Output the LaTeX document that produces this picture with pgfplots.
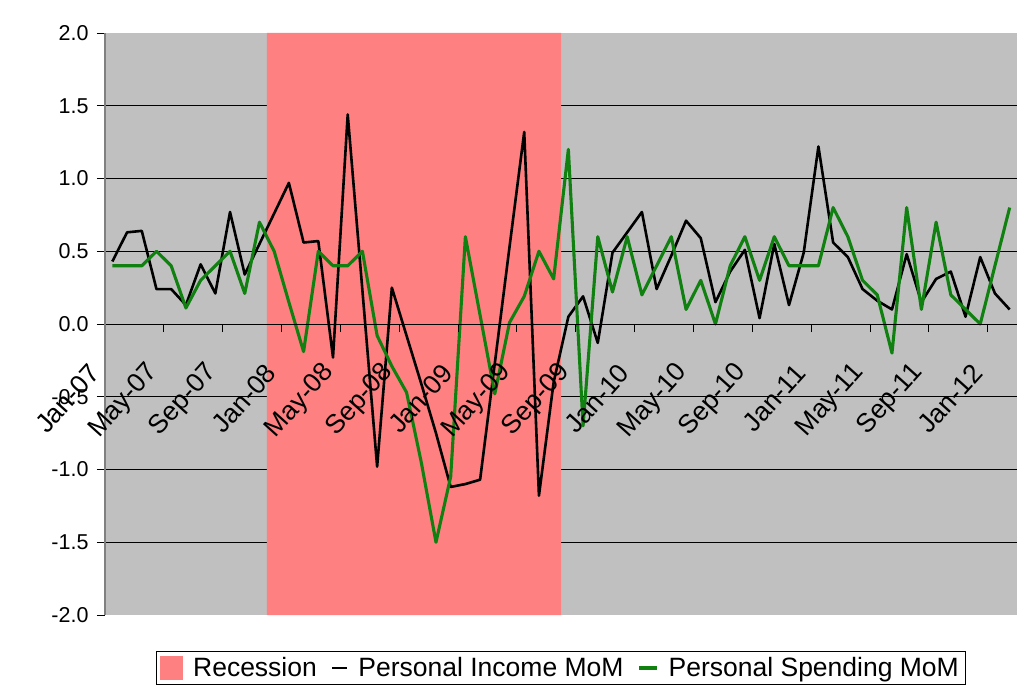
\documentclass[border=0pt]{standalone}
\usepackage{fontspec}
\setmainfont{Liberation Sans}
\usepackage{pgfplots}
\usepackage{pgfplotstable}
\pgfplotsset{compat=1.18}
\definecolor{plotgray}{RGB}{192,192,192}
\definecolor{recred}{RGB}{255,128,128}
\definecolor{spendgreen}{RGB}{16,128,16}
\definecolor{axgray}{RGB}{128,128,128}

\pgfplotstableread{
i income spending
0 0.43 0.40
1 0.63 0.40
2 0.64 0.40
3 0.24 0.50
4 0.24 0.40
5 0.13 0.11
6 0.41 0.30
7 0.21 0.40
8 0.77 0.50
9 0.34 0.21
10 0.55 0.70
11 0.76 0.50
12 0.97 0.15
13 0.56 -0.19
14 0.57 0.50
15 -0.23 0.40
16 1.44 0.40
17 0.23 0.50
18 -0.98 -0.08
19 0.25 -0.29
20 -0.08 -0.47
21 -0.41 -0.95
22 -0.75 -1.50
23 -1.12 -1.05
24 -1.10 0.60
25 -1.07 0.06
26 -0.27 -0.48
27 0.53 0.01
28 1.32 0.19
29 -1.18 0.50
30 -0.40 0.31
31 0.05 1.20
32 0.19 -0.70
33 -0.13 0.60
34 0.49 0.22
35 0.63 0.60
36 0.77 0.20
37 0.24 0.40
38 0.47 0.60
39 0.71 0.10
40 0.59 0.30
41 0.15 0.00
42 0.36 0.40
43 0.51 0.60
44 0.04 0.30
45 0.55 0.60
46 0.13 0.40
47 0.49 0.40
48 1.22 0.40
49 0.56 0.80
50 0.46 0.60
51 0.24 0.30
52 0.16 0.20
53 0.10 -0.20
54 0.48 0.80
55 0.15 0.10
56 0.31 0.70
57 0.36 0.20
58 0.05 0.10
59 0.46 0.00
60 0.21 0.40
61 0.10 0.80
}\datatable

\begin{document}
\begin{tikzpicture}
\path[use as bounding box] (0,0) rectangle (1024pt,693pt);
\begin{axis}[
  at={(105pt,78pt)}, anchor=south west,
  scale only axis, width=912pt, height=582pt,
  xmin=-0.5, xmax=61.5, ymin=-2, ymax=2,
  axis background/.style={fill=plotgray},
  axis x line=middle, axis y line=left,
  axis line style={-},
  x axis line style={black, line width=0.8pt},
  y axis line style={axgray, line width=1.2pt},
  axis on top,
  hide obscured x ticks=false, hide obscured y ticks=false,
  xtick={-0.5,3.5,7.5,11.5,15.5,19.5,23.5,27.5,31.5,35.5,39.5,43.5,47.5,51.5,55.5,59.5},
  xticklabels={Jan-07,May-07,Sep-07,Jan-08,May-08,Sep-08,Jan-09,May-09,Sep-09,Jan-10,May-10,Sep-10,Jan-11,May-11,Sep-11,Jan-12},
  ytick={-2,-1.5,-1,-0.5,0,0.5,1,1.5,2},
  yticklabels={-2.0,-1.5,-1.0,-0.5,0.0,0.5,1.0,1.5,2.0},
  tick align=outside,
  major tick length=8pt,
  tick style={black, line width=0.8pt},
  xticklabel style={font=\fontsize{26.5}{26.5}\selectfont, xshift=-9pt, yshift=-35pt, rotate=48, anchor=east, inner sep=2pt},
  yticklabel style={font=\fontsize{21.5}{21.5}\selectfont, xshift=-5pt},
  no markers,
  legend style={at={(0.5,-0.091)}, anchor=center, draw=black, fill=white,
    line width=0.8pt, font=\fontsize{26.5}{26.5}\selectfont, legend columns=-1,
    /tikz/every odd column/.append style={column sep=7pt},
    /tikz/every even column/.append style={column sep=11pt},
    nodes={inner sep=3pt},
    inner sep=3.5pt},
  legend cell align=left,
]
\draw[black, line width=0.8pt] (axis cs:-0.5,-1.5) -- (axis cs:61.5,-1.5);
\draw[black, line width=0.8pt] (axis cs:-0.5,-1) -- (axis cs:61.5,-1);
\draw[black, line width=0.8pt] (axis cs:-0.5,-0.5) -- (axis cs:61.5,-0.5);
\draw[black, line width=0.8pt] (axis cs:-0.5,0.5) -- (axis cs:61.5,0.5);
\draw[black, line width=0.8pt] (axis cs:-0.5,1) -- (axis cs:61.5,1);
\draw[black, line width=0.8pt] (axis cs:-0.5,1.5) -- (axis cs:61.5,1.5);
\addplot[fill=recred, draw=none,
  legend image code/.code={\fill[recred] (0pt,-12pt) rectangle (23pt,12pt);}]
  coordinates {(10.5,-2) (10.5,2) (30.5,2) (30.5,-2) (10.5,-2)};
\draw[black, line width=0.8pt] (axis cs:-0.5,0) -- (axis cs:61.5,0);
\addplot[black, line width=2.6pt, line join=round,
  legend image code/.code={\draw[black, line width=2.6pt] (0pt,0pt) -- (15pt,0pt);}]
  table[x=i, y=income] {\datatable};
\addplot[spendgreen, line width=3.1pt, line join=round,
  legend image code/.code={\draw[spendgreen, line width=3.1pt] (0pt,0pt) -- (18pt,0pt);}]
  table[x=i, y=spending] {\datatable};
\legend{Recession, Personal Income MoM, Personal Spending MoM}
\end{axis}
\end{tikzpicture}
\end{document}
